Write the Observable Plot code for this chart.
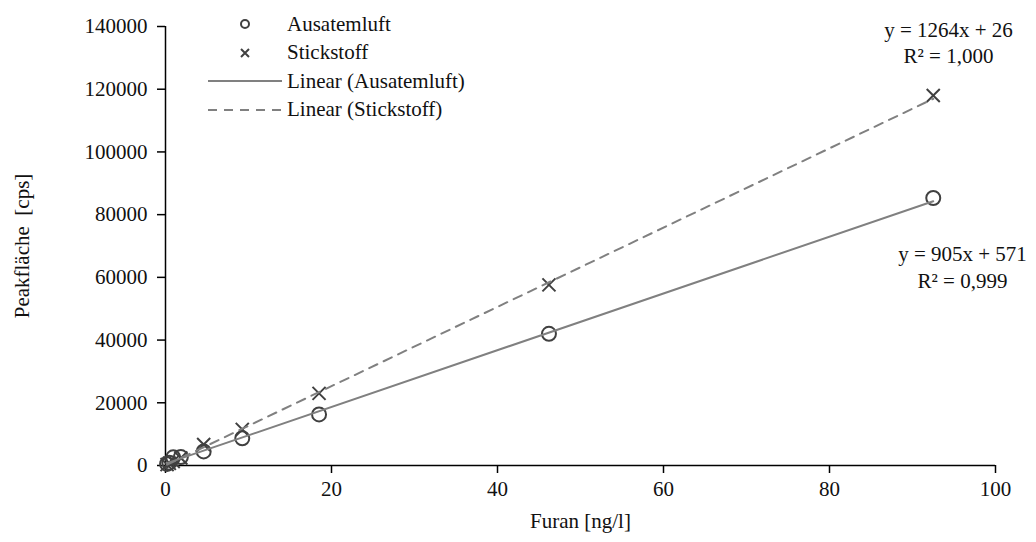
<!DOCTYPE html>
<html>
<head>
<meta charset="utf-8">
<script src="https://cdn.jsdelivr.net/npm/d3@7"></script>
<script src="https://cdn.jsdelivr.net/npm/@observablehq/plot@0.6"></script>
<style>
  html, body { margin: 0; padding: 0; background: #fff; }
  #wrap { position: relative; width: 1036px; height: 542px; font-family: "Liberation Serif", "Times New Roman", serif; }
  #legend { position: absolute; left: 205px; top: 10px; font-size: 21px; color: #111; }
  #legend .row { display: flex; align-items: center; height: 28.5px; }
  #legend svg { width: 80px; height: 20px; flex: none; }
  #legend span { margin-left: 2px; }
</style>
</head>
<body>
<div id="wrap"></div>
<script>
// ---- data ----
const furan = [0.19, 0.46, 0.93, 1.85, 4.6, 9.25, 18.5, 46.2, 92.5];
const ausatemluft = [500, 900, 2600, 2700, 4500, 8700, 16300, 42000, 85300];
const stickstoff = [300, 700, 1300, 2400, 6700, 11500, 23000, 57600, 118000];
const fitAusatemluft = {slope: 905, intercept: 571};
const fitStickstoff = {slope: 1264, intercept: 26};
const eqAusatemluft = ["y = 905x + 571\nR² = 0,999"];
const eqStickstoff = ["y = 1264x + 26\nR² = 1,000"];
const seriesNames = ["Ausatemluft", "Stickstoff", "Linear (Ausatemluft)", "Linear (Stickstoff)"];
const xTicks = [0, 20, 40, 60, 80, 100];
const yTicks = [0, 20000, 40000, 60000, 80000, 100000, 120000, 140000];

const ptsA = furan.map((x, i) => ({x, y: ausatemluft[i]}));
const ptsS = furan.map((x, i) => ({x, y: stickstoff[i]}));
const xr = d3.extent(furan);
const lineA = xr.map(x => ({x, y: fitAusatemluft.slope * x + fitAusatemluft.intercept}));
const lineS = xr.map(x => ({x, y: fitStickstoff.slope * x + fitStickstoff.intercept}));

const font = '"Liberation Serif", "Times New Roman", serif';
const dark = "#404040";
const grey = "#808080";

const chart = Plot.plot({
  width: 1036,
  height: 542,
  marginLeft: 165,
  marginRight: 41,
  marginTop: 26,
  marginBottom: 77,
  style: {fontFamily: font, fontSize: "21px", color: "#111", background: "white"},
  x: {domain: [0, 100]},
  y: {domain: [0, 140000]},
  marks: [
    Plot.axisX({ticks: xTicks, tickSize: 8, tickPadding: 8, tickFormat: d => String(d),
      label: "Furan [ng/l]", labelAnchor: "center", labelArrow: "none", labelOffset: 62, stroke: "#000", strokeWidth: 1.5}),
    Plot.axisY({ticks: yTicks, tickSize: 8, tickPadding: 10, tickFormat: d => String(d),
      label: "Peakfläche\u00a0 [cps]", labelAnchor: "center", labelArrow: "none", labelOffset: 151, stroke: "#000", strokeWidth: 1.5}),
    Plot.ruleY([0], {stroke: "#000", strokeWidth: 1.5}),
    Plot.ruleX([0], {stroke: "#000", strokeWidth: 1.5}),
    Plot.dot(ptsA, {x: "x", y: "y", r: 7, stroke: dark, strokeWidth: 2, fill: "none"}),
    Plot.dot(ptsS, {x: "x", y: "y", r: 6, symbol: "times", stroke: dark, strokeWidth: 2}),
    Plot.line(lineA, {x: "x", y: "y", stroke: grey, strokeWidth: 2}),
    Plot.line(lineS, {x: "x", y: "y", stroke: grey, strokeWidth: 2, strokeDasharray: "9,7"}),
    Plot.text(eqStickstoff, {text: d => d, frameAnchor: "top-right", textAnchor: "middle", lineAnchor: "middle",
      dx: -47, dy: 15, lineHeight: 1.25, fill: "#111"}),
    Plot.text(eqAusatemluft, {text: d => d, frameAnchor: "right", textAnchor: "middle", lineAnchor: "middle",
      dx: -33, dy: 20, lineHeight: 1.3, fill: "#111"})
  ]
});

const wrap = document.getElementById("wrap");
wrap.appendChild(chart);

// legend
const legend = document.createElement("div");
legend.id = "legend";
const sym = [
  '<circle cx="40" cy="10" r="4" fill="none" stroke="#404040" stroke-width="2"/>',
  '<path d="M36,6 L44,14 M44,6 L36,14" stroke="#404040" stroke-width="2"/>',
  '<line x1="3" x2="77" y1="10" y2="10" stroke="#808080" stroke-width="2"/>',
  '<line x1="3" x2="77" y1="10" y2="10" stroke="#808080" stroke-width="2" stroke-dasharray="9,7"/>'
];
seriesNames.forEach((name, i) => {
  const row = document.createElement("div");
  row.className = "row";
  row.innerHTML = '<svg viewBox="0 0 80 20">' + sym[i] + '</svg><span>' + name + '</span>';
  legend.appendChild(row);
});
wrap.appendChild(legend);
</script>
</body>
</html>
